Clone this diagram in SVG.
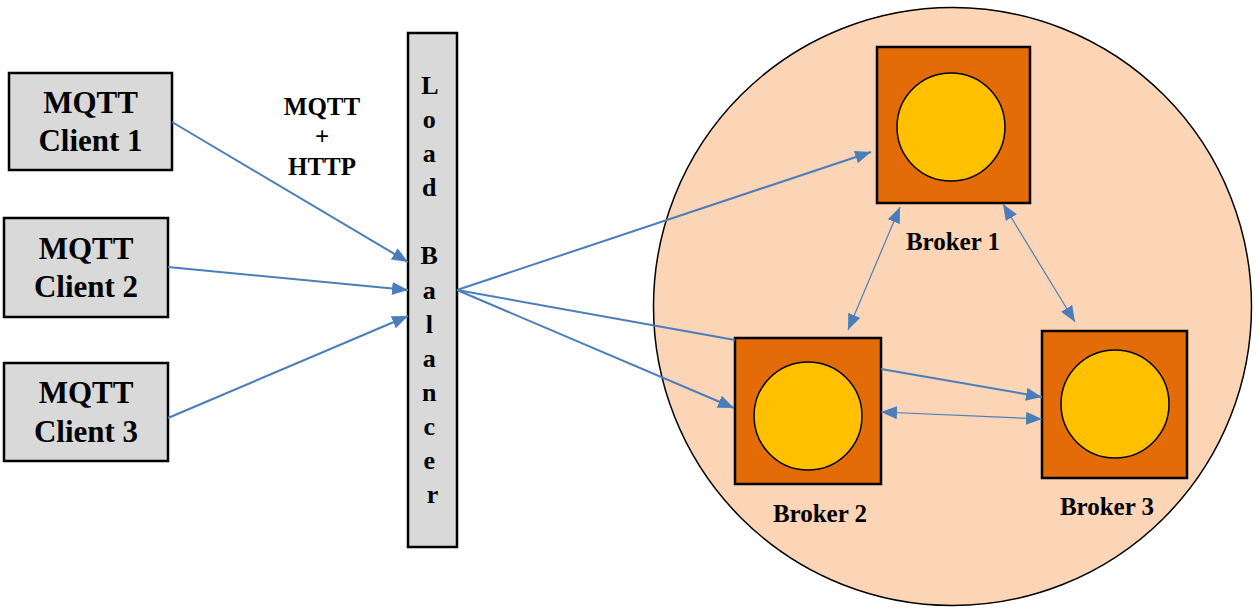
<svg xmlns="http://www.w3.org/2000/svg" width="1260" height="616" viewBox="0 0 1260 616">
<defs>
<style>
.box{fill:#d9d9d9;stroke:#000;stroke-width:2.5}
.brk{fill:#e36c09;stroke:#000;stroke-width:2.5}
.core{fill:#ffc000;stroke:#000;stroke-width:1.5}
.t{font-family:"Liberation Serif","Times New Roman",serif;font-weight:bold;fill:#000;text-anchor:middle}
.c{stroke:#4a7ebb;fill:none}
.w{stroke-width:2}
.n{stroke-width:1.2}
</style>
<marker id="ah" markerUnits="userSpaceOnUse" markerWidth="17" markerHeight="14" refX="16" refY="6.5" orient="auto-start-reverse">
<path d="M0,0 L16,6.5 L0,13 z" fill="#4a7ebb"/>
</marker>
</defs>
<rect width="1260" height="616" fill="#fff"/>
<g id="cluster">
<circle cx="952.5" cy="306.5" r="299" fill="#fbd5b5" stroke="#000" stroke-width="1.5"/>
</g>
<g id="client1">
<rect class="box" x="9" y="73" width="163" height="97"/>
<text class="t" x="90.5" y="113" font-size="31">MQTT</text>
<text class="t" x="90.5" y="151" font-size="31">Client 1</text>
</g>
<g id="client2">
<rect class="box" x="4" y="218" width="164" height="99"/>
<text class="t" x="86" y="259" font-size="31">MQTT</text>
<text class="t" x="86" y="297" font-size="31">Client 2</text>
</g>
<g id="client3">
<rect class="box" x="4" y="363" width="164" height="98"/>
<text class="t" x="86" y="403" font-size="31">MQTT</text>
<text class="t" x="86" y="442" font-size="31">Client 3</text>
</g>
<g id="protocol-label">
<text class="t" x="322" y="115" font-size="25">MQTT</text>
<text class="t" x="322" y="145" font-size="25">+</text>
<text class="t" x="322" y="175" font-size="25">HTTP</text>
</g>
<g id="load-balancer">
<rect class="box" x="408" y="33" width="49" height="514"/>
<text class="t" font-size="26">
<tspan x="432.5" y="94">L</tspan>
<tspan x="432.5" y="128">o</tspan>
<tspan x="432.5" y="162">a</tspan>
<tspan x="432.5" y="196">d</tspan>
<tspan x="432.5" y="264">B</tspan>
<tspan x="432.5" y="298.5">a</tspan>
<tspan x="432.5" y="332.5">l</tspan>
<tspan x="432.5" y="366.5">a</tspan>
<tspan x="432.5" y="400.5">n</tspan>
<tspan x="432.5" y="434.5">c</tspan>
<tspan x="432.5" y="469">e</tspan>
<tspan x="432.5" y="503">r</tspan>
</text>
</g>
<g id="broker1">
<rect class="brk" x="877" y="47" width="153" height="156"/>
<circle class="core" cx="951" cy="127" r="54"/>
<text class="t" x="953" y="250" font-size="25">Broker 1</text>
</g>
<g id="broker2">
<rect class="brk" x="735" y="338" width="146" height="146"/>
<circle class="core" cx="808" cy="416" r="54"/>
<text class="t" x="820" y="522" font-size="25">Broker 2</text>
</g>
<g id="broker3">
<rect class="brk" x="1042" y="331" width="145" height="147"/>
<circle class="core" cx="1115" cy="404" r="54"/>
<text class="t" x="1107" y="515" font-size="25">Broker 3</text>
</g>
<g id="connectors">
<line class="c w" x1="172" y1="122" x2="408" y2="262" marker-end="url(#ah)"/>
<line class="c w" x1="168" y1="267" x2="408" y2="290" marker-end="url(#ah)"/>
<line class="c w" x1="168" y1="418" x2="408" y2="316" marker-end="url(#ah)"/>
<line class="c w" x1="457" y1="290" x2="871" y2="152" marker-end="url(#ah)"/>
<line class="c w" x1="457" y1="290" x2="735" y2="340"/>
<line class="c w" x1="457" y1="290" x2="734" y2="408" marker-end="url(#ah)"/>
<line class="c n" x1="900" y1="207" x2="848" y2="330" marker-start="url(#ah)" marker-end="url(#ah)"/>
<line class="c n" x1="1003" y1="204" x2="1075" y2="322" marker-start="url(#ah)" marker-end="url(#ah)"/>
<line class="c w" x1="881" y1="369" x2="1042" y2="397" marker-end="url(#ah)"/>
<line class="c n" x1="881" y1="412" x2="1042" y2="419" marker-start="url(#ah)" marker-end="url(#ah)"/>
</g>
</svg>
